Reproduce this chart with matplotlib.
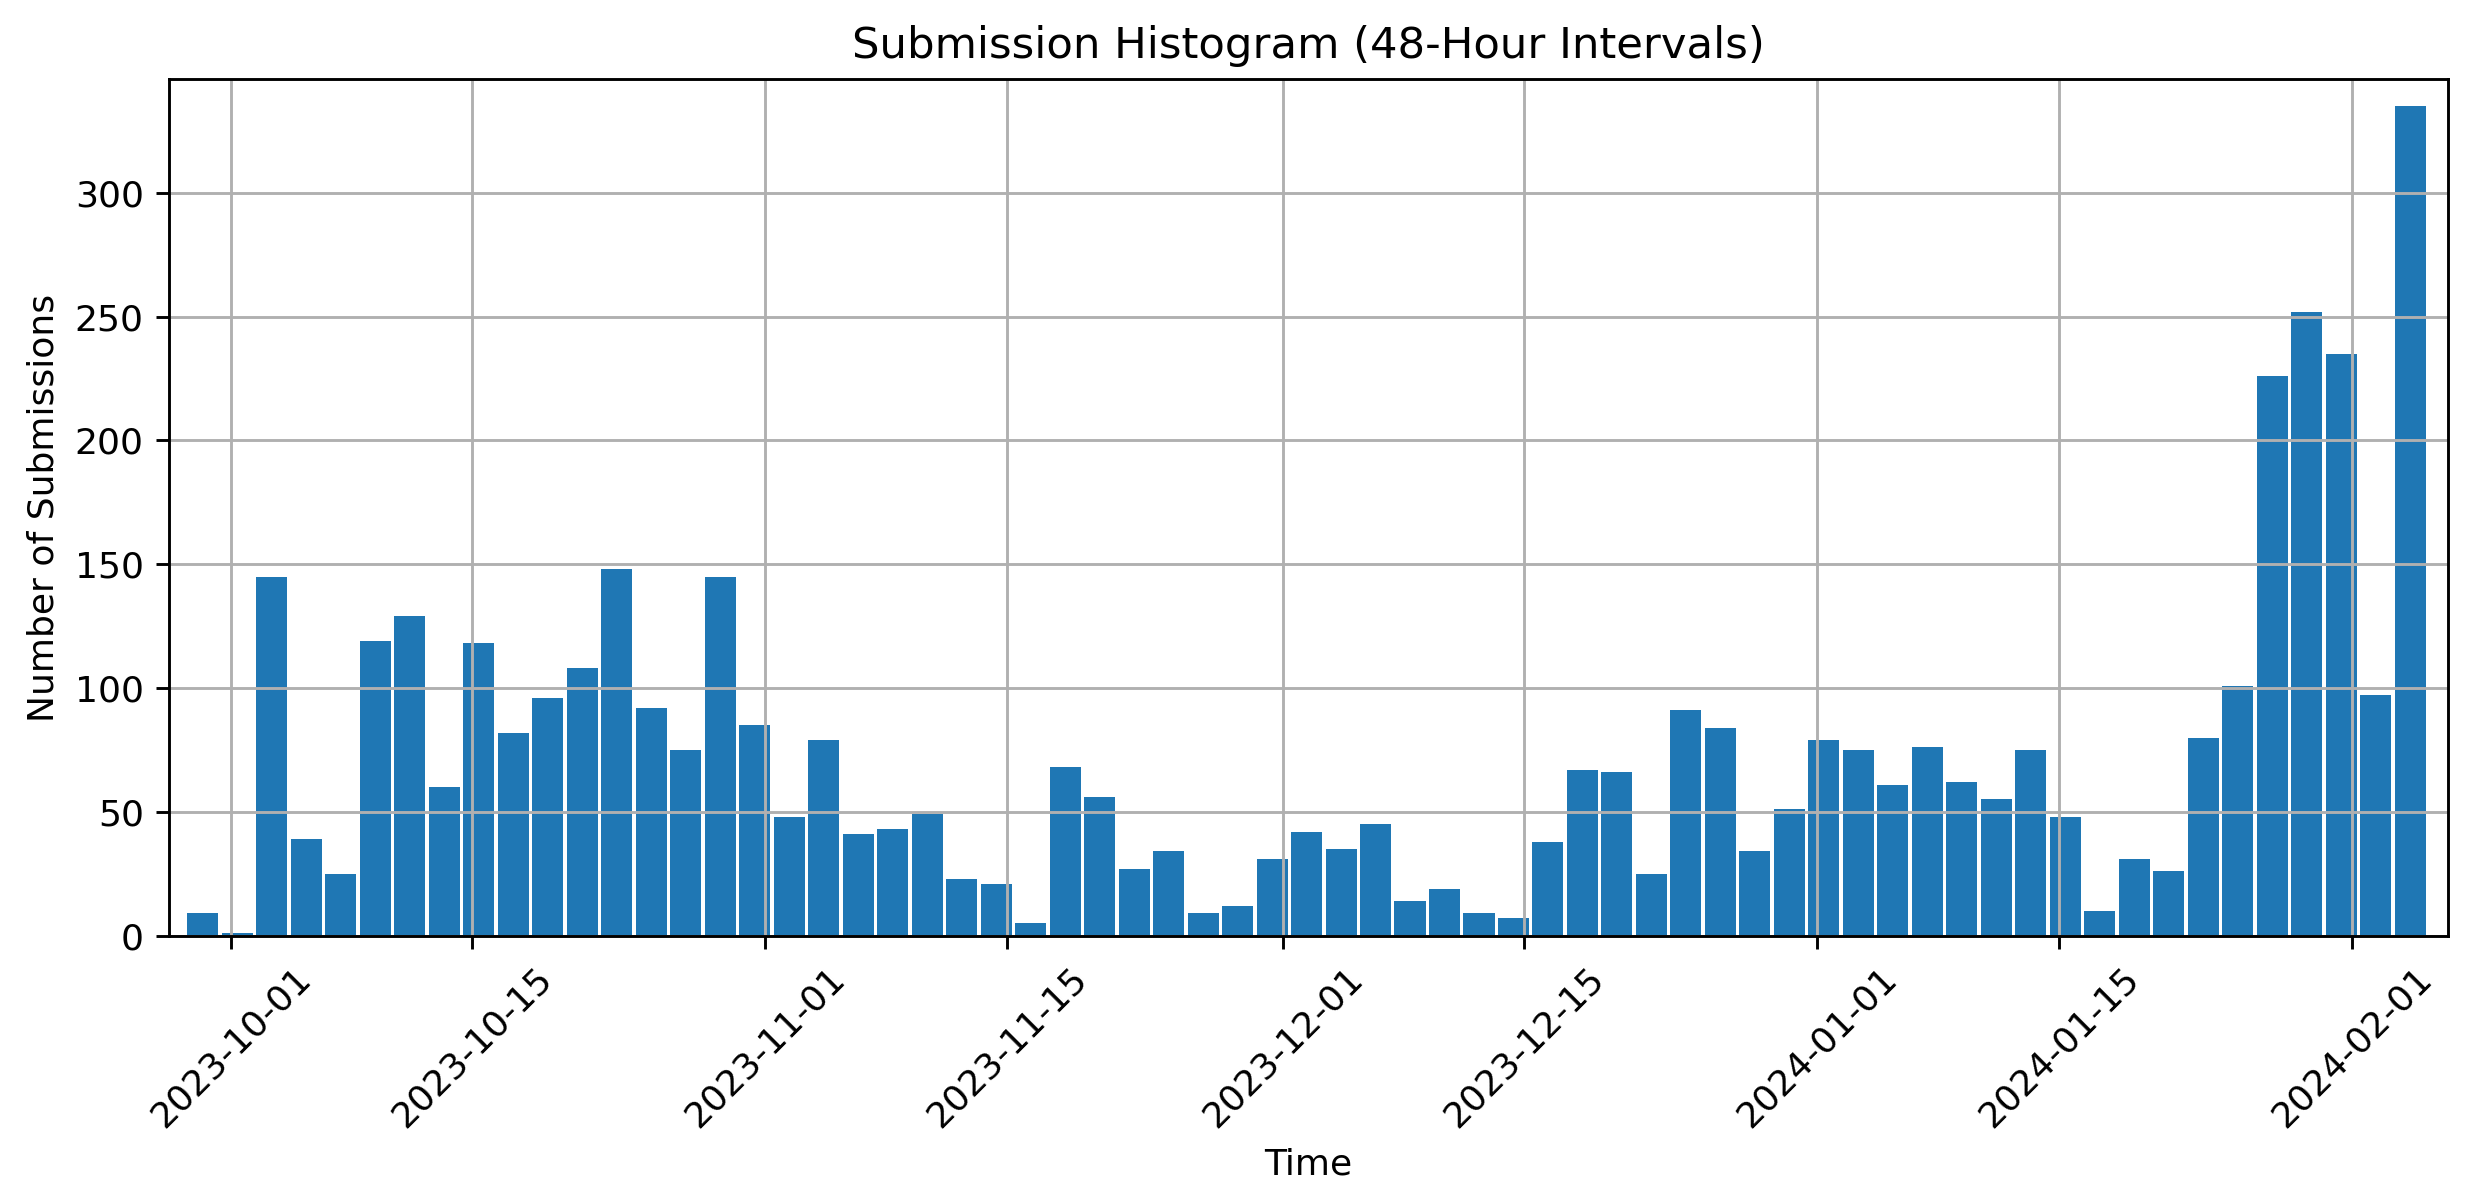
import pandas as pd
import matplotlib
matplotlib.use("Agg")
import matplotlib.pyplot as plt
import matplotlib.dates as mdates

# 48小时一个区间，第一个区间中心
first_center = "2023-09-29 09:00"
counts = [9, 1, 145, 39, 25, 119, 129, 60, 118, 82,
          96, 108, 148, 92, 75, 145, 85, 48, 79, 41,
          43, 49, 23, 21, 5, 68, 56, 27, 34, 9,
          12, 31, 42, 35, 45, 14, 19, 9, 7, 38,
          67, 66, 25, 91, 84, 34, 51, 79, 75, 61,
          76, 62, 55, 75, 48, 10, 31, 26, 80, 101,
          226, 252, 235, 97, 335]

centers = pd.date_range(first_center, periods=len(counts), freq="48h")

DPI = 260
fig, ax = plt.subplots(figsize=(2479 / DPI, 1200 / DPI), dpi=DPI)
ax.bar(centers, counts, width=pd.Timedelta(hours=48 * 0.9), color="#1f77b4")

ax.xaxis.set_major_locator(mdates.DayLocator(bymonthday=[1, 15]))
ax.xaxis.set_major_formatter(mdates.DateFormatter("%Y-%m-%d"))
plt.xticks(rotation=45)

ax.set_xlim(pd.Timestamp("2023-09-27 10:05"), pd.Timestamp("2024-02-06 13:10"))
ax.set_ylim(0, 345.8)
ax.set_yticks([0, 50, 100, 150, 200, 250, 300])

ax.grid(True)
ax.set_title("Submission Histogram (48-Hour Intervals)")
ax.set_xlabel("Time")
ax.set_ylabel("Number of Submissions")

plt.subplots_adjust(left=0.0682, right=0.9874, top=0.9339, bottom=0.2203)
plt.savefig("out.png", dpi=DPI)
